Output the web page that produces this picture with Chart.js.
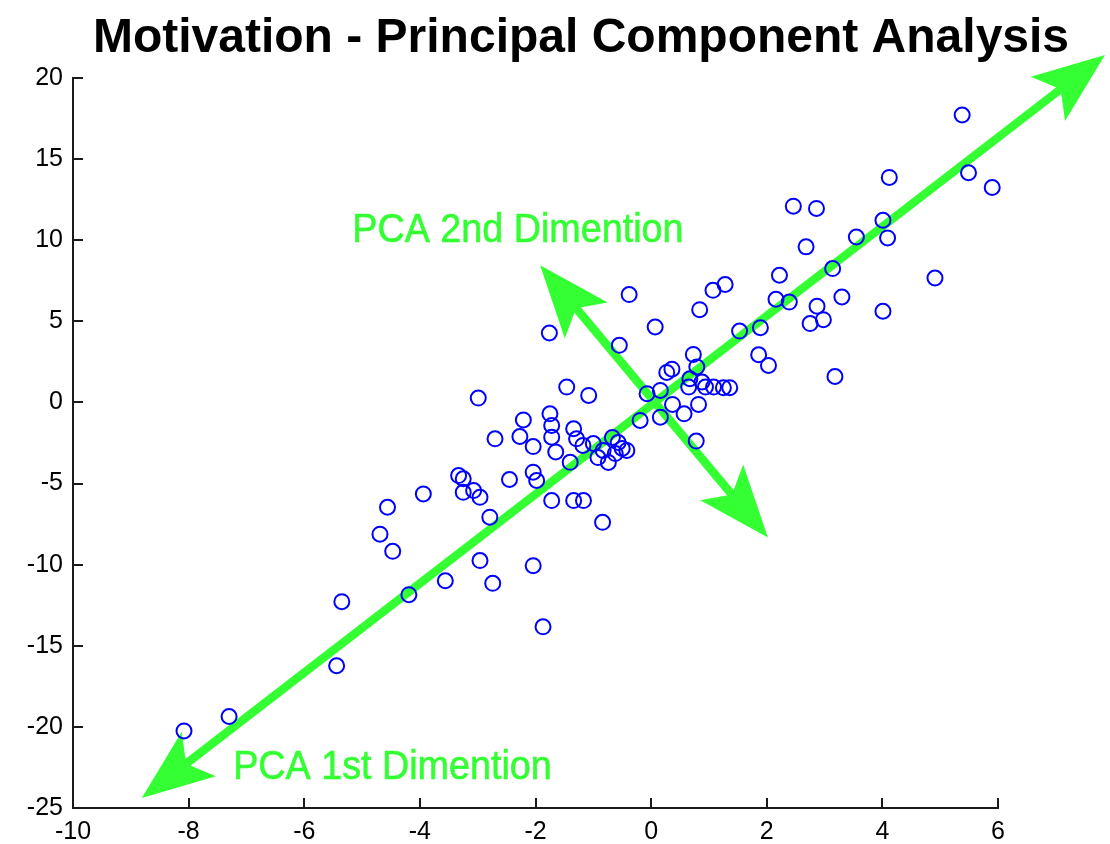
<!DOCTYPE html>
<html>
<head>
<meta charset="utf-8">
<script src="https://cdn.jsdelivr.net/npm/chart.js@4.4.0/dist/chart.umd.min.js"></script>
<style>
  html, body { margin: 0; padding: 0; background: #ffffff; }
  #wrap { width: 1110px; height: 844px; position: relative; }
</style>
</head>
<body>
<div id="wrap"><canvas id="chart" width="1110" height="844"></canvas></div>
<script>
// Sample observations (x, y)
const sampleX = [
  5.38, 5.49, 5.90, 4.12, 2.46, 2.86, 4.01, 3.55, 4.09, 2.68,
  2.22, 3.14, 4.91, 2.16, 2.39, 3.30, 2.87, 2.75, 2.98, 4.01,
  1.89, 1.53, 1.86, 2.03, 3.18, 1.28, 1.07, -0.38, 0.84, 0.07,
  -0.55, 0.73, -1.76, 0.27, 0.36, 0.79, 0.67, 0.88, 0.94, 1.08,
  1.25, 1.36, 0.65, 0.16, -0.07, 0.37, 0.82, 0.57, 0.16, -0.19,
  0.78, -1.46, -1.08, -2.99, -2.21, -1.75, -1.72, -1.34, -2.70, -2.27,
  -2.04, -1.65, -1.72, -1.29, -1.18, -1.00, -0.92, -0.83, -0.74, -0.67,
  -0.57, -0.50, -0.62, -0.42, -1.40, -2.04, -1.98, -1.72, -1.34, -1.17,
  -0.84, -3.33, -3.25, -3.07, -3.25, -2.96, -2.45, -3.94, -4.56, -4.69,
  -4.47, -2.79, -5.35, -4.19, -3.56, -2.74, -1.87, -5.44, -2.96, -2.04,
  -8.08, -7.30
];
const sampleY = [
  17.72, 14.16, 13.25, 13.87, 12.10, 11.96, 11.23, 10.20, 10.14, 9.59,
  7.84, 8.25, 7.67, 6.36, 6.19, 6.50, 5.93, 4.86, 5.10, 5.62,
  4.61, 4.40, 2.94, 2.28, 1.60, 7.27, 6.91, 6.65, 5.72, 4.65,
  3.52, 2.96, 4.28, 1.85, 2.05, 2.19, 1.46, 1.26, 0.95, 0.95,
  0.91, 0.91, 0.95, 0.74, 0.54, -0.12, -0.12, -0.70, -0.91, -1.11,
  -2.38, 0.95, 0.43, 0.27, -1.08, -0.70, -1.42, -1.62, -2.24, -2.10,
  -2.72, -3.05, -2.14, -2.24, -2.65, -2.53, -3.40, -2.96, -3.70, -2.16,
  -2.47, -2.84, -3.15, -2.96, -3.69, -4.30, -4.81, -6.05, -6.05, -6.05,
  -7.39, -4.51, -4.71, -5.43, -5.54, -5.85, -4.75, -5.64, -6.46, -8.12,
  -9.18, -7.07, -12.28, -11.85, -10.99, -11.15, -13.83, -16.23, -9.75, -10.06,
  -20.25, -19.36
];

// Axis ranges and tick spacing
const xRange = [-10, 6];
const yRange = [-25, 20];
const xStep = 2;
const yStep = 5;

// Principal directions, as end points in data units
const pc1Ends = [[-8.81, -24.38], [7.85, 21.42]];
const pc2Ends = [[-1.92, 8.46], [2.02, -8.33]];

// Direction captions, anchored at their left baseline in data units
const captionText = ['PCA 2nd Dimention', 'PCA 1st Dimention'];
const captionAt = [[-5.17, 9.88], [-7.23, -23.21]];

const titleText = 'Motivation - Principal Component Analysis';

const FONT = "'Liberation Sans', Arial, Helvetica, sans-serif";
const GREEN = '#33ff33';
const AXIS = '#1a1a1a';

function arrowHead(ctx, tx, ty, ux, uy) {
  // tip at (tx,ty), pointing along unit vector (ux,uy)
  const L = 72, hw = 28, notch = 56;
  const bx = tx - ux * L, by = ty - uy * L;
  const px = -uy, py = ux;
  ctx.beginPath();
  ctx.moveTo(tx, ty);
  ctx.lineTo(bx + px * hw, by + py * hw);
  ctx.lineTo(tx - ux * notch, ty - uy * notch);
  ctx.lineTo(bx - px * hw, by - py * hw);
  ctx.closePath();
  ctx.fill();
}

function doubleArrow(ctx, xs, ys, ends) {
  const x0 = xs.getPixelForValue(ends[0][0]), y0 = ys.getPixelForValue(ends[0][1]);
  const x1 = xs.getPixelForValue(ends[1][0]), y1 = ys.getPixelForValue(ends[1][1]);
  const len = Math.hypot(x1 - x0, y1 - y0);
  const ux = (x1 - x0) / len, uy = (y1 - y0) / len;
  ctx.lineWidth = 8.5;
  ctx.lineCap = 'butt';
  ctx.beginPath();
  ctx.moveTo(x0 + ux * 50, y0 + uy * 50);
  ctx.lineTo(x1 - ux * 50, y1 - uy * 50);
  ctx.stroke();
  arrowHead(ctx, x1, y1, ux, uy);
  arrowHead(ctx, x0, y0, -ux, -uy);
}

const decorations = {
  id: 'decorations',
  beforeDatasetsDraw(chart) {
    const ctx = chart.ctx;
    const xs = chart.scales.x, ys = chart.scales.y;
    const area = chart.chartArea;

    // inward tick marks
    ctx.save();
    ctx.strokeStyle = AXIS;
    ctx.lineWidth = 2;
    ctx.beginPath();
    xs.ticks.forEach(t => {
      const p = Math.round(xs.getPixelForValue(t.value));
      ctx.moveTo(p, area.bottom);
      ctx.lineTo(p, area.bottom - 10);
    });
    ys.ticks.forEach(t => {
      const p = Math.round(ys.getPixelForValue(t.value));
      ctx.moveTo(area.left, p);
      ctx.lineTo(area.left + 10, p);
    });
    ctx.stroke();
    ctx.restore();

    // principal component arrows
    ctx.save();
    ctx.strokeStyle = GREEN;
    ctx.fillStyle = GREEN;
    doubleArrow(ctx, xs, ys, pc1Ends);
    doubleArrow(ctx, xs, ys, pc2Ends);
    ctx.restore();

    // captions
    ctx.save();
    ctx.fillStyle = GREEN;
    ctx.strokeStyle = GREEN;
    ctx.lineWidth = 0.6;
    ctx.font = '41px ' + FONT;
    ctx.textBaseline = 'alphabetic';
    ctx.textAlign = 'left';
    captionText.forEach((txt, i) => {
      const px = xs.getPixelForValue(captionAt[i][0]);
      const py = ys.getPixelForValue(captionAt[i][1]);
      ctx.save();
      ctx.translate(px, py);
      ctx.scale(0.92, 1);
      ctx.fillText(txt, 0, 0);
      ctx.strokeText(txt, 0, 0);
      ctx.restore();
    });
    ctx.restore();
  },
  afterDraw(chart) {
    const ctx = chart.ctx;
    ctx.save();
    ctx.fillStyle = '#000';
    ctx.font = 'bold 48px ' + FONT;
    ctx.textAlign = 'center';
    ctx.textBaseline = 'alphabetic';
    ctx.fillText(titleText, 581, 52);
    ctx.restore();
  }
};

new Chart(document.getElementById('chart'), {
  type: 'scatter',
  data: {
    datasets: [{
      data: sampleX.map((x, i) => ({ x: x, y: sampleY[i] })),
      pointStyle: 'circle',
      pointRadius: 7.5,
      pointHoverRadius: 7.5,
      borderWidth: 2,
      borderColor: '#0000ff',
      backgroundColor: 'rgba(0,0,0,0)',
      clip: false
    }]
  },
  plugins: [decorations],
  options: {
    responsive: false,
    animation: false,
    devicePixelRatio: 1,
    layout: { padding: { top: 78, right: 112, left: 0, bottom: 0 } },
    plugins: {
      legend: { display: false },
      tooltip: { enabled: false },
      title: { display: false }
    },
    scales: {
      x: {
        type: 'linear',
        min: xRange[0], max: xRange[1],
        ticks: { stepSize: xStep, padding: 9, color: '#000', font: { size: 25, family: FONT } },
        grid: { display: false, drawTicks: false },
        border: { display: true, color: AXIS, width: 2 },
        afterFit(s) { s.height = 36; }
      },
      y: {
        type: 'linear',
        min: yRange[0], max: yRange[1],
        ticks: { stepSize: yStep, padding: 10, color: '#000', font: { size: 25, family: FONT } },
        grid: { display: false, drawTicks: false },
        border: { display: true, color: AXIS, width: 2 },
        afterFit(s) { s.width = 73; }
      }
    }
  }
});
</script>
</body>
</html>
